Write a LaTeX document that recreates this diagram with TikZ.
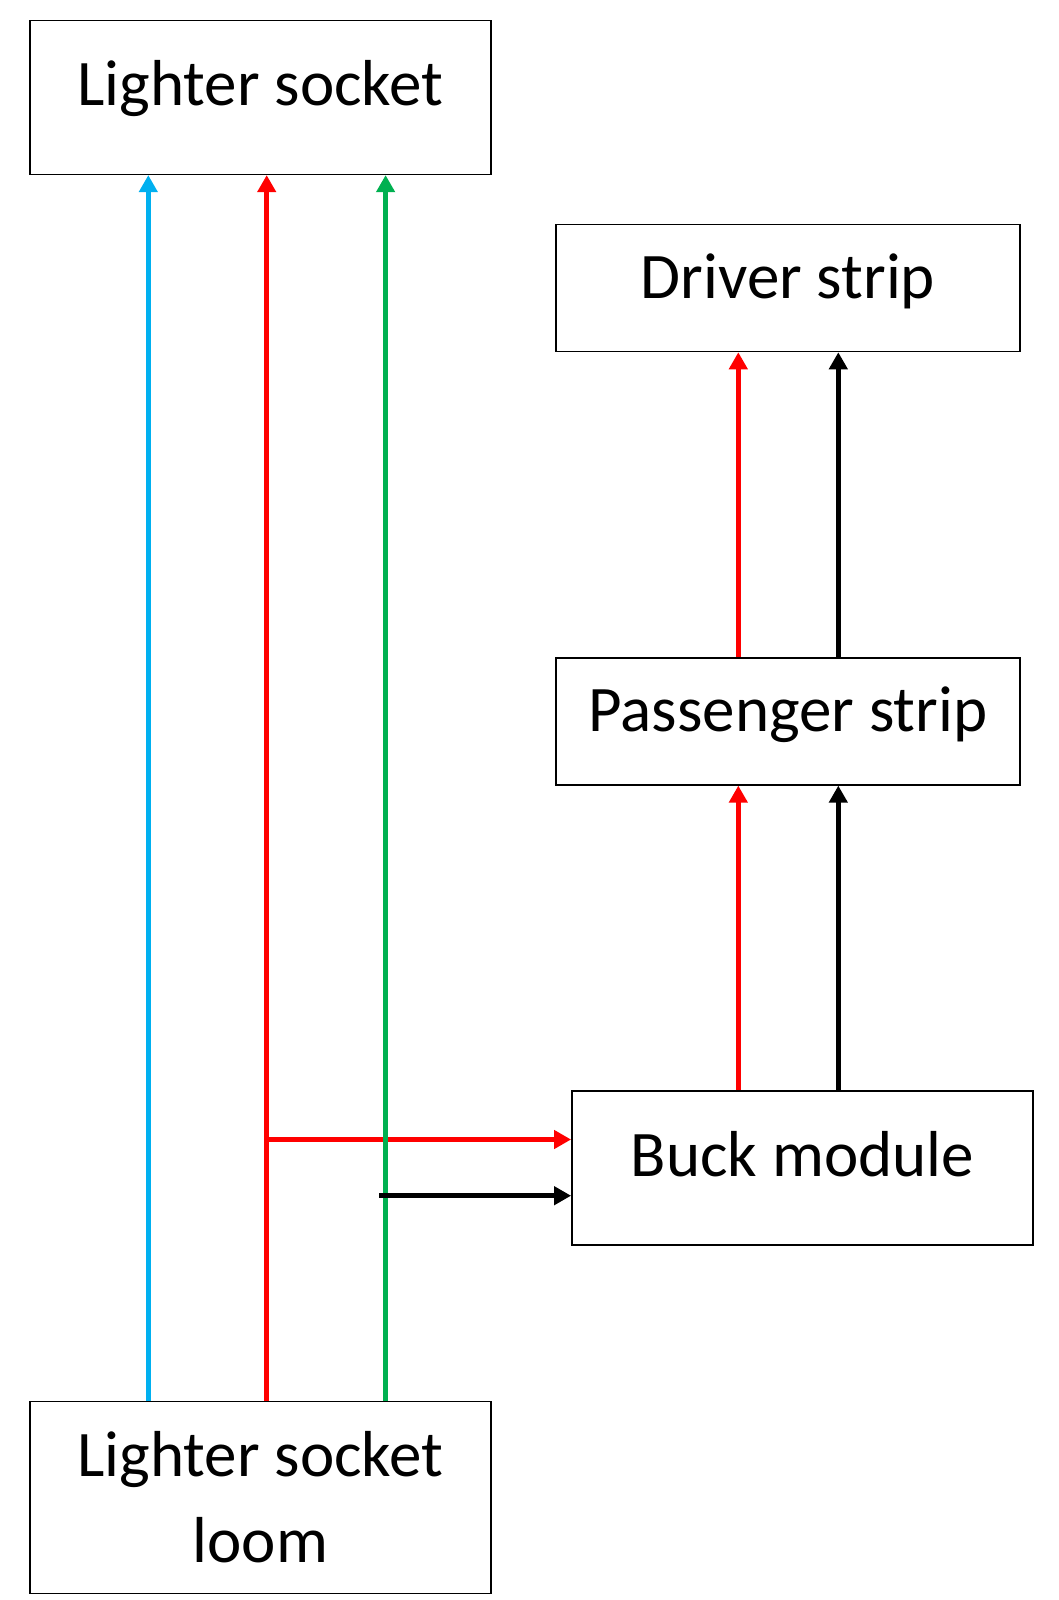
\documentclass[tikz,border=0pt]{standalone}
\usepackage{fontspec}
\setmainfont{Carlito}
\usetikzlibrary{arrows.meta}
\definecolor{wireblue}{HTML}{00B0F0}
\definecolor{wirered}{HTML}{FF0000}
\definecolor{wiregreen}{HTML}{00B050}
\tikzset{
  box/.style={rectangle,draw,line width=1.5pt,inner sep=0pt,minimum width=461pt,
    minimum height=154pt,font=\fontsize{65}{86}\selectfont,text height=42pt,text depth=25.5pt},
  strip/.style={box,minimum width=464pt,minimum height=127pt,text depth=21.5pt},
  wire/.style={line width=5pt,-{Triangle[width=18pt,length=17pt]}},
  feed/.style={line width=5pt}
}

\begin{document}
\begin{tikzpicture}[x=1pt,y=-1pt]
\useasboundingbox (0,0) rectangle (1059,1600);
\node[box] (socket) at (260.35,97.35) {Lighter socket};
\node[strip] (driver) at (787.85,288) {Driver strip};
\node[strip] (passenger) at (787.85,721.35) {Passenger strip};
\node[box] (buck) at (802.35,1167.85) {Buck module};
\node[box,minimum height=192pt,align=center,text height=,text depth=] (loom) at (260.35,1497.5) {Lighter socket\\loom};
\coordinate (bluex) at (148.3,0);
\coordinate (redx) at (266.7,0);
\coordinate (greenx) at (385.6,0);
\coordinate (posx) at (738.3,0);
\coordinate (negx) at (838.3,0);
\coordinate (redtap) at (266.7,1139.5);
\coordinate (negtap) at (379.3,1195.7);
% loom up to the lighter socket
\draw[wire,wireblue] (loom.north -| bluex) -- (socket.south -| bluex);
\draw[wire,wirered] (loom.north -| redx) -- (socket.south -| redx);
\draw[wire,wirered] (redtap) -- (redtap -| buck.west);
\draw[wire,wiregreen] (loom.north -| greenx) -- (socket.south -| greenx);
\draw[wire] (negtap) -- (negtap -| buck.west);
% buck module up to the strips
\draw[wire,wirered] (buck.north -| posx) -- (passenger.south -| posx);
\draw[wire] (buck.north -| negx) -- (passenger.south -| negx);
\draw[wire,wirered] (passenger.north -| posx) -- (driver.south -| posx);
\draw[wire] (passenger.north -| negx) -- (driver.south -| negx);
\end{tikzpicture}
\end{document}
